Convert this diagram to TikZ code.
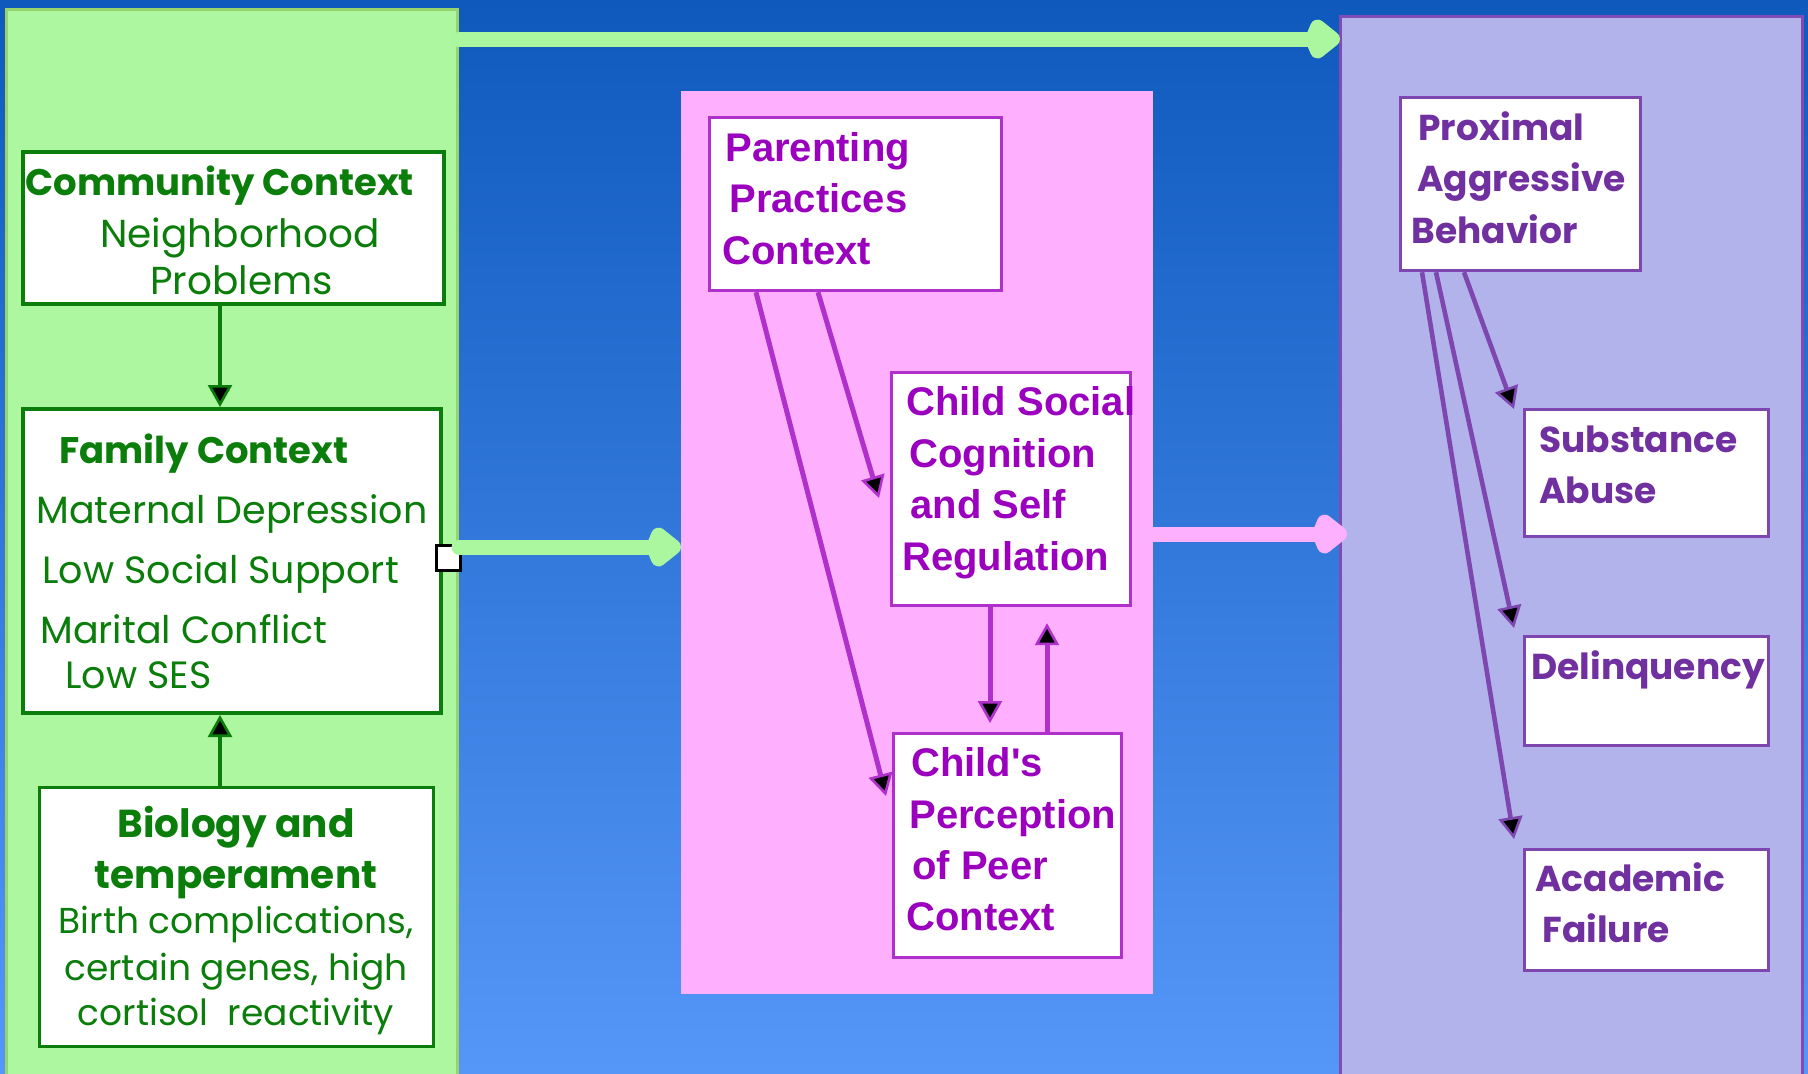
\documentclass[tikz,border=0pt]{standalone}
\usepackage{fontspec}
\usetikzlibrary{arrows.meta,calc}
\newfontfamily\gothic{Poppins}
\newfontfamily\arialf{Liberation Sans}
\definecolor{bgtop}{HTML}{0F59BD}
\definecolor{bgbot}{HTML}{5597F8}
\definecolor{gfill}{HTML}{ACF79F}
\definecolor{gedge}{HTML}{98D46C}
\definecolor{pfill}{HTML}{FEB0FE}
\definecolor{vfill}{HTML}{B3B3EC}
\definecolor{vedge}{HTML}{7F4CB3}
\definecolor{gdark}{HTML}{0A7D0A}
\definecolor{ptext}{HTML}{9B00BF}
\definecolor{pline}{HTML}{B030CC}
\definecolor{vtext}{HTML}{7030A0}
\definecolor{vline}{HTML}{7E47B0}
\definecolor{bigpink}{HTML}{FDB0FD}
\definecolor{biggreen}{HTML}{ABF7A0}
\tikzset{
  panel/.style={rectangle, inner sep=0pt, anchor=north west},
  gboxs/.style={rectangle, inner sep=0pt, anchor=north west, draw=gdark, fill=white, line width=2pt},
  pboxs/.style={rectangle, inner sep=0pt, anchor=north west, draw=pline, fill=white, line width=1.6pt},
  vboxs/.style={rectangle, inner sep=0pt, anchor=north west, draw=vline, fill=white, line width=1.6pt},
  gbx/.style={text=gdark, font=\gothic\bfseries\fontsize{18.5}{23}\selectfont, inner sep=0pt, anchor=base west},
  gtx/.style={text=gdark, font=\gothic\fontsize{19}{23}\selectfont, inner sep=0pt, anchor=base west},
  ptx/.style={text=ptext, font=\arialf\bfseries\fontsize{20}{24}\selectfont, inner sep=0pt, anchor=base west},
  vtx/.style={text=vtext, font=\gothic\bfseries\fontsize{18}{22}\selectfont, inner sep=0pt, anchor=base west},
  tipk/.style={-{Triangle[length=11pt,width=12pt,fill=black,line width=1.3pt]}},
  garr/.style={draw=gdark, line width=2pt, tipk},
  parr/.style={draw=pline, line width=2.5pt, tipk},
  varr/.style={draw=vline, line width=2.3pt, tipk},
  bigarr/.style={line width=7.5pt, line cap=round, -{Kite[length=20pt,width=24pt,inset=5pt,round]}}
}
\begin{document}
\begin{tikzpicture}[x=0.5pt,y=-0.5pt]
\useasboundingbox (0,0) rectangle (1808,1073);
\shade[top color=bgtop,bottom color=bgbot] (0,0) rectangle (1808,1073);

% panels
\node[panel, fill=gfill, draw=gedge, line width=1.5pt, minimum width=225.5pt, minimum height=540pt] (gpanel) at (5,8) {};
\node[panel, fill=pfill, minimum width=236pt, minimum height=451.5pt] (ppanel) at (681,91) {};
\node[panel, fill=vfill, draw=vedge, line width=1.5pt, minimum width=231pt, minimum height=540pt] (vpanel) at (1339,15) {};

% green boxes
\node[gboxs, minimum width=210.5pt, minimum height=76pt] (comm) at (21,150) {};
\node[gboxs, minimum width=209pt, minimum height=152pt] (fam) at (21,407) {};
\node[gboxs, line width=1.5pt, minimum width=197pt, minimum height=129.5pt] (bio) at (38,786) {};
\node[rectangle, draw=black, fill=white, line width=1.5pt, inner sep=0pt, anchor=north west, minimum width=12pt, minimum height=12.5pt] (sq) at (435,544) {};

\node[gbx] (t1) at (25,195) {Community Context};
\node[gtx, font=\gothic\fontsize{19.5}{23}\selectfont] (t2) at (100,247) {Neighborhood};
\node[gtx, font=\gothic\fontsize{19.5}{23}\selectfont] (t3) at (150,294) {Problems};
\node[gbx] (t4) at (59,463) {Family Context};
\node[gtx] (t5) at (36,523) {Maternal Depression};
\node[gtx] (t6) at (42,583) {Low Social Support};
\node[gtx] (t7) at (40,643) {Marital Conflict};
\node[gtx] (t8) at (65,688) {Low SES};
\node[gbx, anchor=base, font=\gothic\bfseries\fontsize{19.5}{23}\selectfont] (t9) at (236,837) {Biology and};
\node[gbx, anchor=base, font=\gothic\bfseries\fontsize{19.5}{23}\selectfont] (t10) at (236,888) {temperament};
\node[gtx, anchor=base, font=\gothic\fontsize{18}{23}\selectfont] (t11) at (236,933) {Birth complications,};
\node[gtx, anchor=base, font=\gothic\fontsize{18}{23}\selectfont] (t12) at (236,980) {certain genes, high};
\node[gtx, anchor=base, font=\gothic\fontsize{18}{23}\selectfont] (t13) at (236,1025) {cortisol\ \ reactivity};

% pink boxes
\node[pboxs, minimum width=146pt, minimum height=86.5pt] (par) at (708,116) {};
\node[pboxs, minimum width=119.5pt, minimum height=116.5pt] (cs) at (890,371) {};
\node[pboxs, minimum width=114pt, minimum height=112pt] (per) at (892,732) {};

\node[ptx] (p1) at (725,161) {Parenting};
\node[ptx] (p2) at (729,212) {Practices};
\node[ptx] (p3) at (722,264) {Context};
\node[ptx] (p4) at (906,415) {Child Social};
\node[ptx] (p5) at (909,467) {Cognition};
\node[ptx] (p6) at (910,518) {and Self};
\node[ptx] (p7) at (902,570) {Regulation};
\node[ptx] (p8) at (911,776) {Child's};
\node[ptx] (p9) at (909,828) {Perception};
\node[ptx] (p10) at (912,879) {of Peer};
\node[ptx] (p11) at (906,930) {Context};

% purple boxes
\node[vboxs, minimum width=120pt, minimum height=86.5pt] (prox) at (1399,96) {};
\node[vboxs, minimum width=122pt, minimum height=63.5pt] (sub) at (1523,408) {};
\node[vboxs, minimum width=122pt, minimum height=54.5pt] (del) at (1523,635) {};
\node[vboxs, minimum width=122pt, minimum height=60.5pt] (aca) at (1523,848) {};

\node[vtx] (v1) at (1418,140) {Proximal};
\node[vtx] (v2) at (1417,191) {Aggressive};
\node[vtx] (v3) at (1411,243) {Behavior};
\node[vtx] (v4) at (1539,452) {Substance};
\node[vtx] (v5) at (1539,503) {Abuse};
\node[vtx] (v6) at (1531,679) {Delinquency};
\node[vtx] (v7) at (1535,891) {Academic};
\node[vtx] (v8) at (1542,942) {Failure};

% green arrows
\draw[garr] ($(comm.south west)+(199,0)$) -- ($(fam.north west)+(199,0)$);
\draw[garr] ($(bio.north west)+(182,0)$) -- ($(fam.south west)+(199,0)$);

% pink arrows
\draw[parr] ($(par.south west)+(110,0)$) -- ($(cs.north west)+(-11,127)$);
\draw[parr] ($(par.south west)+(48,0)$) -- ($(per.north west)+(-6,64)$);
\draw[parr] ($(cs.south west)+(100,0)$) -- ($(per.north west)+(98,-9)$);
\draw[parr] ($(per.north west)+(155,0)$) -- ($(cs.south west)+(157,16)$);

% purple arrows
\draw[varr] ($(prox.south west)+(65,0)$) -- ($(sub.north west)+(-9,1)$);
\draw[varr] ($(prox.south west)+(37,0)$) -- ($(del.north west)+(-9,-7)$);
\draw[varr] ($(prox.south west)+(23,0)$) -- ($(aca.north west)+(-9,-9)$);

% big arrows
\draw[bigarr, draw=biggreen, fill=biggreen] ($(gpanel.north east)+(0,31)$) -- ($(vpanel.north west)+(1,24)$);
\draw[bigarr, draw=biggreen, fill=biggreen] ($(sq.north east)+(-3,3)$) -- ($(ppanel.north west)+(0,456)$);
\draw[bigarr, draw=bigpink, fill=bigpink] ($(ppanel.north east)+(0,443)$) -- ($(vpanel.north west)+(8,519)$);
\end{tikzpicture}
\end{document}
